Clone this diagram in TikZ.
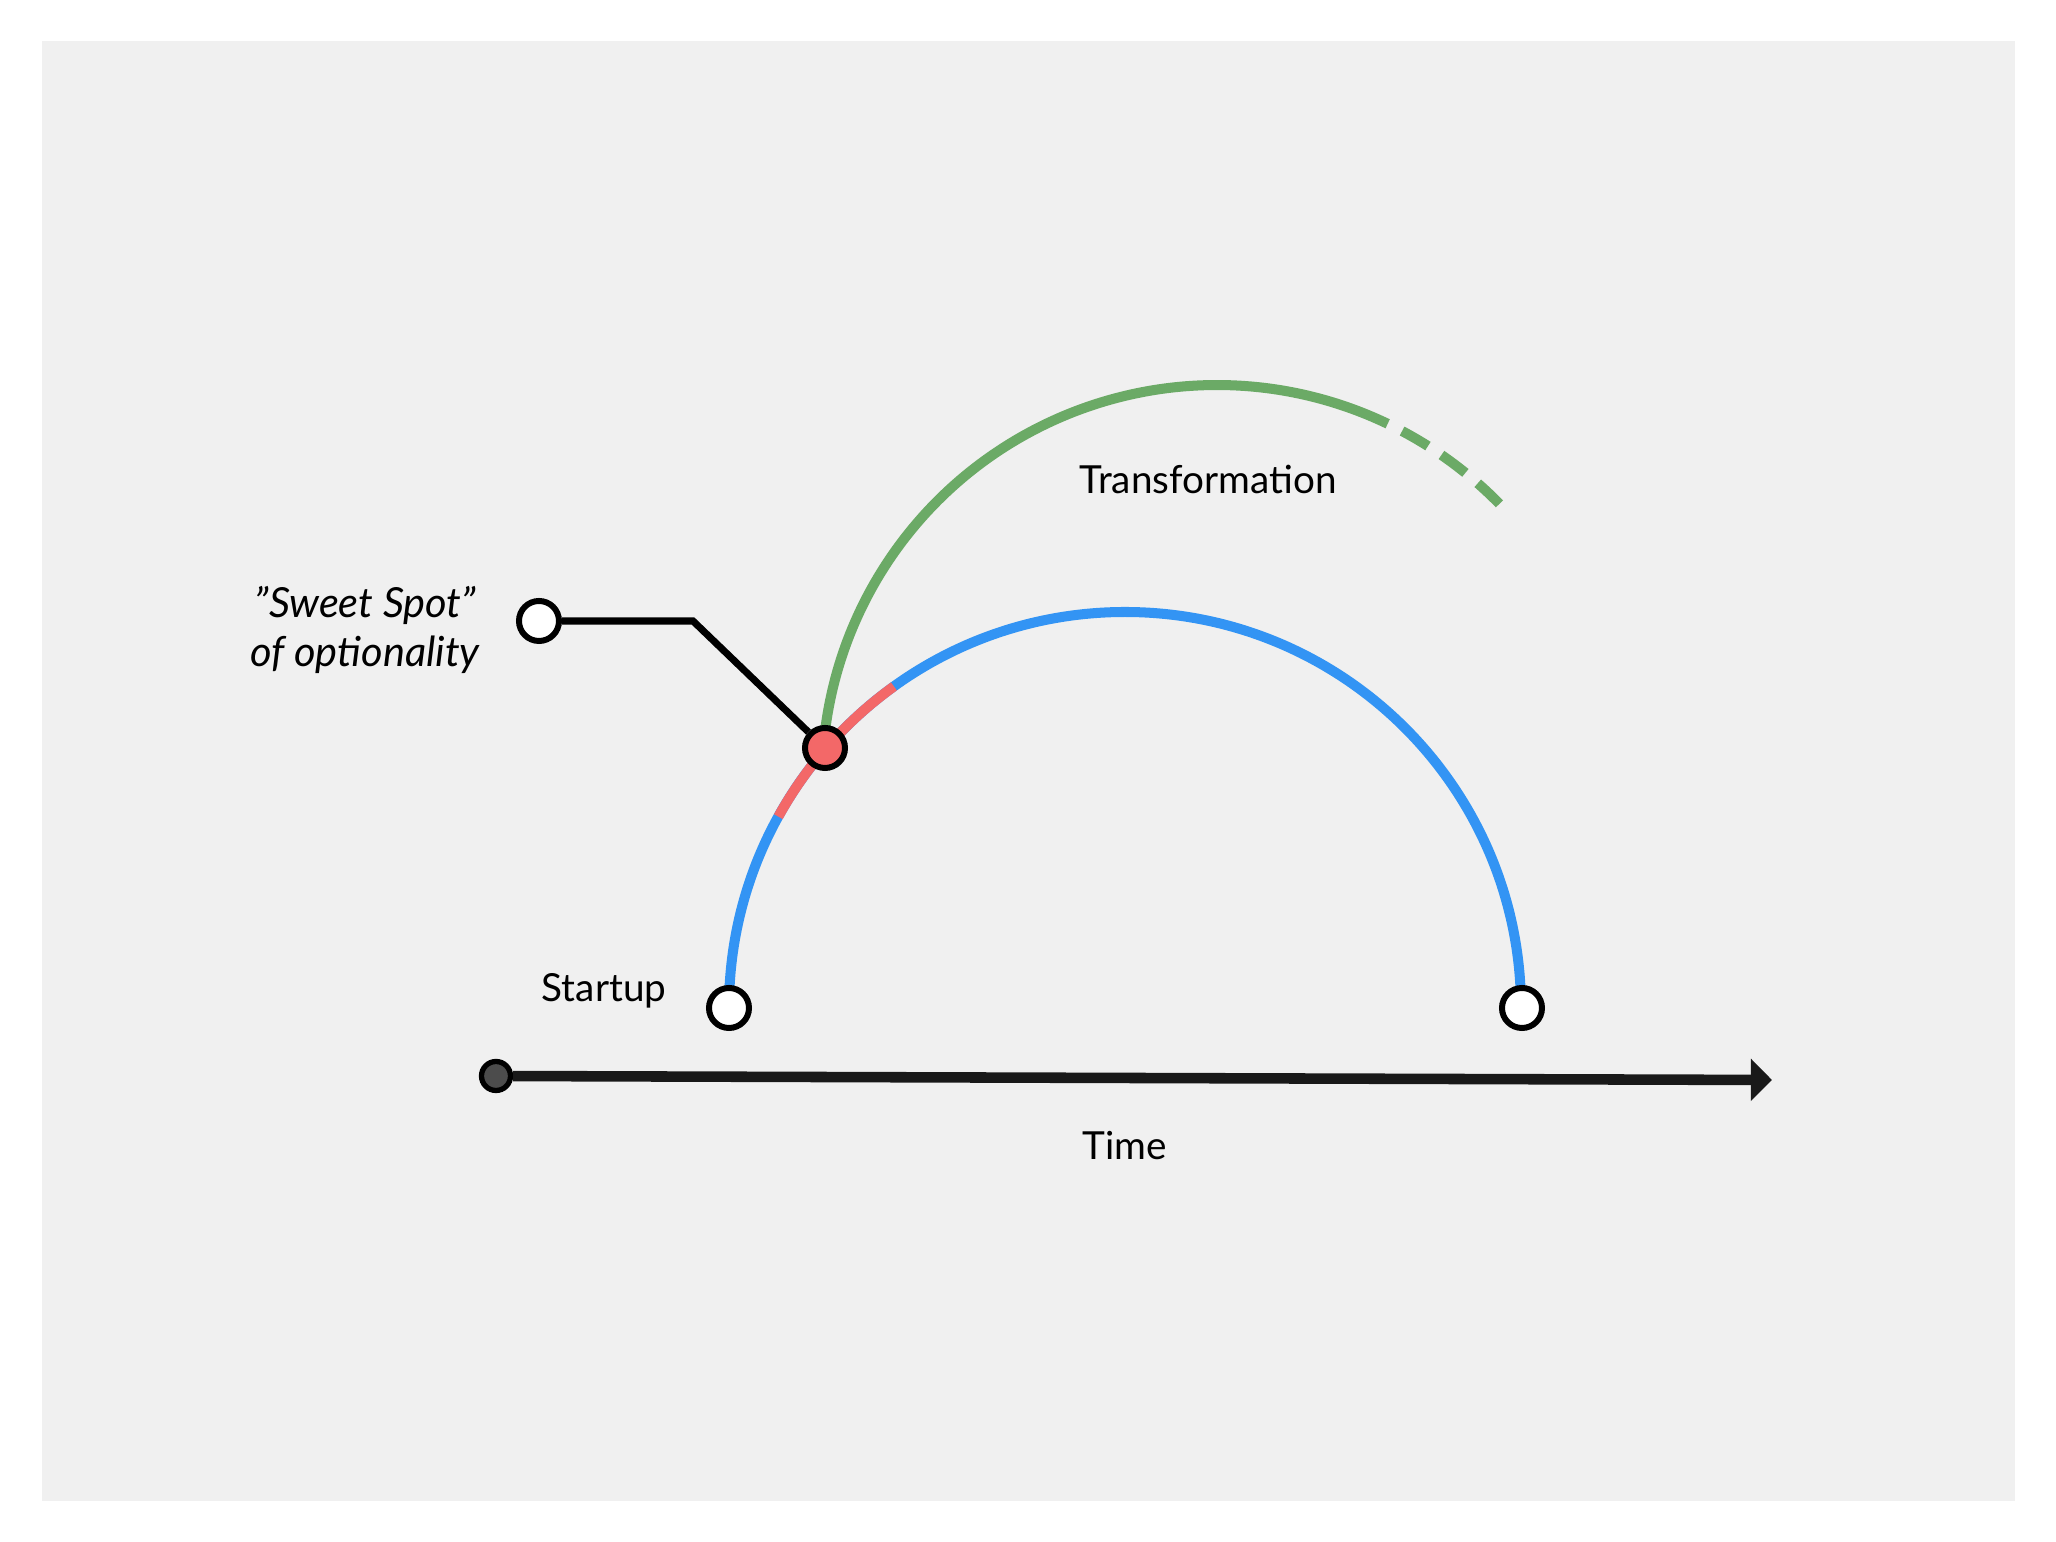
\documentclass[tikz,border=0pt]{standalone}
\usepackage{fontspec}
\setmainfont{Lato}
\usetikzlibrary{arrows.meta}
\definecolor{panel}{HTML}{F0F0F0}
\definecolor{arcblue}{HTML}{3394F4}
\definecolor{arcred}{HTML}{F36868}
\definecolor{arcgreen}{HTML}{6BAA66}
\tikzset{
  dot/.style={draw=black, line width=1.7pt, circle, fill=white, minimum size=0.4cm, inner sep=0pt},
  bluearc/.style={draw=arcblue, line width=2.85pt},
  redarc/.style={draw=arcred, line width=2.85pt},
  greenarc/.style={draw=arcgreen, line width=2.85pt},
  label/.style={font=\fontsize{11}{13}\selectfont, text=black}
}
\begin{document}
\begin{tikzpicture}[x=0.01cm, y=0.01cm]
    \useasboundingbox (0,0) rectangle (2056,1542);
    \fill[white] (0,0) rectangle (2056,1542);
    \fill[panel] (42,41) rectangle (2015,1501);
    \coordinate (bc) at (1125,534);
    \coordinate (gc) at (1217,762);
    \coordinate (bend) at (693,921);
    \coordinate (t1) at (1772,462);
    % arcs
    \draw [bluearc] (729,534) arc[start angle=180, end angle=0, radius=396];
    \draw [redarc] ([shift={(151.1:396)}]bc) arc[start angle=151.1, end angle=125.7, radius=396];
    \draw [greenarc] ([shift={(175.3:395)}]gc) arc[start angle=175.3, end angle=64.4, radius=395];
    \draw [greenarc, dash pattern=on 8.5pt off 4.6pt, dash phase=8.5pt] ([shift={(64.4:395)}]gc) arc[start angle=64.4, end angle=43.1, radius=395];
    % points
    \path (729,534) node[dot] (su) {};
    \path (1522,534) node[dot] (fin) {};
    \path (825,794) node[dot, fill=arcred] (ss) {};
    \path (539,921) node[dot] (lbl) {};
    \path (496,466) node[draw=black, line width=1.5pt, circle, fill=black!70, minimum size=0.29cm, inner sep=0pt] (t0) {};
    \draw [line width=2pt] (lbl) -- (bend) -- (ss);
    \draw [line width=3pt, black!90, -{Triangle[length=6pt, width=11.7pt]}] (t0) -- (t1);
    % labels
    \node[label] (tr) at (1208,1063) {Transformation};
    \node[label] (st) at (604,551) {Startup};
    \node[label] (tm) at (1125,396) {Time};
    \node[label, align=center, font=\fontsize{11.8}{14}\itshape] (sw) at (365,912) {\symbol{34}Sweet Spot\symbol{34}\\of optionality};
\end{tikzpicture}
\end{document}
